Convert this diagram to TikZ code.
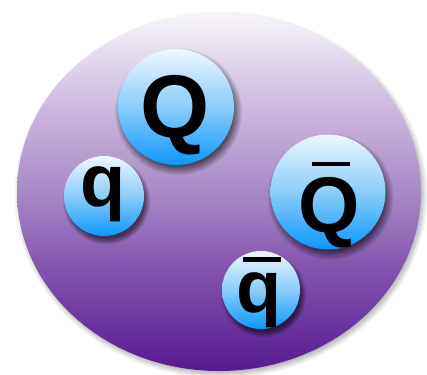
\documentclass[tikz,border=0pt]{standalone}
\usepackage{fontspec}
\setmainfont{Liberation Sans}
\usetikzlibrary{shadows,shadows.blur,shapes.geometric}
\definecolor{e1}{HTML}{F7F5FA}
\definecolor{e2}{HTML}{CDB9DE}
\definecolor{e3}{HTML}{A78AC5}
\definecolor{e4}{HTML}{8457B0}
\definecolor{e5}{HTML}{561A92}
\definecolor{b1}{HTML}{EEF7FD}
\definecolor{b2}{HTML}{8ACDFA}
\definecolor{b3}{HTML}{0C97FC}
\pgfdeclareverticalshading{blobshade}{100bp}{color(0bp)=(e5);color(25bp)=(e5);color(40bp)=(e4);color(50bp)=(e3);color(62bp)=(e2);color(75bp)=(e1);color(100bp)=(e1)}
\pgfdeclareverticalshading{bubbleshade}{100bp}{color(0bp)=(b3);color(25bp)=(b3);color(50bp)=(b2);color(75bp)=(b1);color(100bp)=(b1)}
\tikzset{
  hadron/.style={ellipse, inner sep=0pt, minimum width=404pt, minimum height=358pt,
    shading=blobshade, blur shadow={shadow xshift=2pt, shadow yshift=-3pt, shadow blur radius=5pt, shadow blur steps=12, shadow opacity=35}},
  quark/.style={circle, inner sep=0pt, minimum size=#1, shading=bubbleshade,
    circular drop shadow={shadow xshift=2pt, shadow yshift=-4pt, shadow scale=1.1, opacity=0.55, fill=black}},
  letter/.style={anchor=base, inner sep=0pt, text=black, font=\bfseries\fontsize{#1}{#1}\selectfont},
  barline/.style={fill=black}
}
\begin{document}
\begin{tikzpicture}[x=1pt,y=1pt]
\useasboundingbox (0,0) rectangle (427,374);
\node[hadron] (H) at (219,182) {};
\node[quark=116pt] (cQ) at (176,267) {};
\node[quark=80pt] (cq) at (104,178) {};
\node[quark=115pt] (cQb) at (328,182) {};
\node[quark=78pt] (cqb) at (261,84) {};
\node[letter=89pt] (tQ) at (175,236) {Q};
\node[letter=74pt] (tq) at (103.5,167) {q};
\node[letter=79pt] (tQb) at (329,141) {Q};
\node[letter=74pt] (tqb) at (259,62) {q};
\fill[barline] (312,207.5) rectangle (350,212);
\fill[barline] (243,111.5) rectangle (281,116.5);
\end{tikzpicture}
\end{document}
